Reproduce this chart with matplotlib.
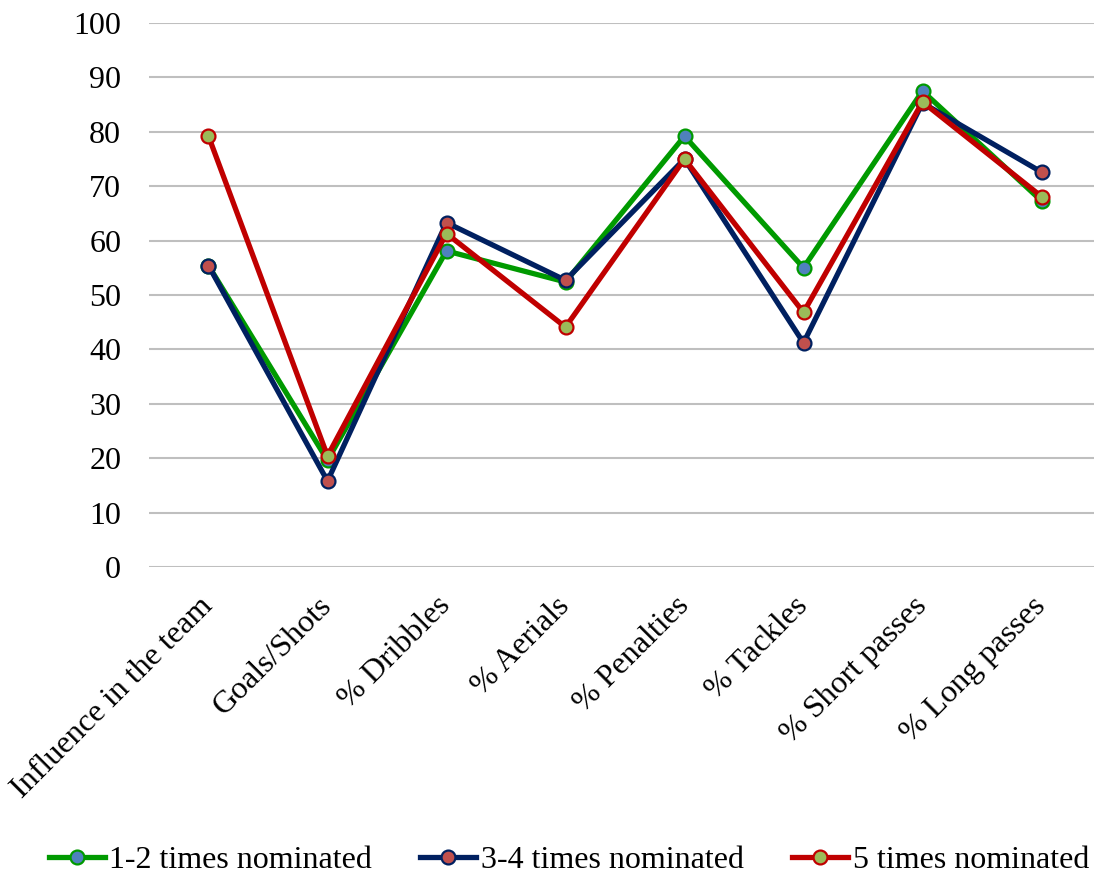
import numpy as np
import matplotlib
matplotlib.use('Agg')
import matplotlib.pyplot as plt

plt.rcParams['font.family'] = ['Liberation Serif', 'DejaVu Serif']

categories = ['Influence in the team', 'Goals/Shots', '% Dribbles', '% Aerials',
              '% Penalties', '% Tackles', '% Short passes', '% Long passes']
nom_1_2 = [55.4, 19.6, 58.1, 52.4, 79.2, 55.0, 87.5, 67.3]
nom_3_4 = [55.4, 15.8, 63.3, 52.7, 75.0, 41.2, 85.3, 72.6]
nom_5 = [79.2, 20.4, 61.3, 44.1, 75.0, 46.8, 85.5, 68.1]

series = [
    ('1-2 times nominated', nom_1_2, '#009A00', '#4F81BD'),
    ('3-4 times nominated', nom_3_4, '#002060', '#C0504D'),
    ('5 times nominated', nom_5, '#C00000', '#9BBB59'),
]

fig = plt.figure(figsize=(10.94, 8.73), dpi=100)
ax = fig.add_axes([149/1094, 1-567/873, 952/1094, 544/873])

x = np.arange(len(categories))
for name, vals, lc, mc in series:
    ax.plot(x, vals, color=lc, lw=3.8, marker='o', ms=10, mfc=mc, mec=lc,
            mew=1.6, label=name, solid_joinstyle='round')

ax.set_xlim(-0.5, len(categories) - 0.5)
ax.set_ylim(0, 100)
ax.set_yticks(np.arange(0, 101, 10))
ax.yaxis.grid(True, color='#BFBFBF', lw=1.5)
ax.set_axisbelow(True)
ax.tick_params(axis='y', length=0, pad=20, labelsize=23)
ax.tick_params(axis='x', length=0, pad=25, labelsize=23)
ax.set_xticks(x)
ax.set_xticklabels(categories, rotation=45, ha='right', va='center',
                   rotation_mode='anchor')
for s in ax.spines.values():
    s.set_visible(False)

fig.legend(loc='center', bbox_to_anchor=(0.52, 1-860/873), ncol=3, frameon=False,
           fontsize=23, handlelength=1.75, handletextpad=0.15, columnspacing=1.5)

plt.savefig('out.png', dpi=100)
